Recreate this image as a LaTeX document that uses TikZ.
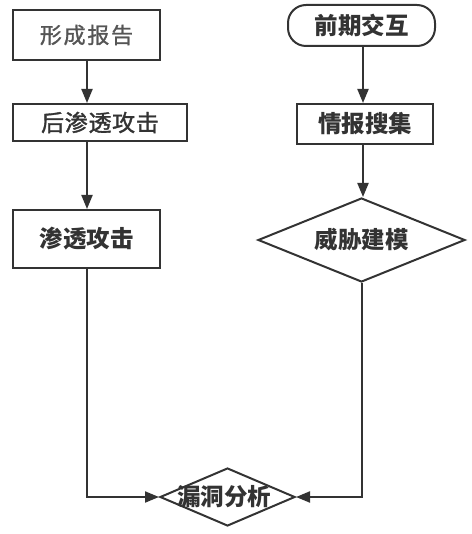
\documentclass[tikz,border=0pt]{standalone}
\usepackage{fontspec}
\setmainfont{Noto Sans CJK SC}
\usetikzlibrary{arrows.meta,shapes.geometric}
\definecolor{ink}{HTML}{333333}
\definecolor{ink2}{HTML}{555555}
\begin{document}
\begin{tikzpicture}[x=1pt,y=-1pt,
  box/.style={draw=ink,line width=2pt,minimum height=#1,inner sep=0pt},
  lbl/.style={font=\fontsize{23.5}{25}\selectfont\bfseries,text=ink},
  arr/.style={draw=ink,line width=2pt,-{Triangle[length=14pt,width=11pt]}},
  dia/.style={diamond,draw=ink,line width=2pt,aspect=#1,inner sep=0pt}]
\useasboundingbox (0,0) rectangle (471,534);
\node[box=50pt,minimum width=147pt,text=ink2,font=\fontsize{22}{24}\selectfont\addfontfeature{LetterSpace=8,FakeBold=1.2}] (a) at (86.5,35) {形成报告};
\node[box=37pt,minimum width=174pt,text=ink,font=\fontsize{23}{24}\selectfont\addfontfeature{LetterSpace=3,FakeBold=1.5}] (b) at (100,122.5) {后渗透攻击};
\node[box=58pt,minimum width=147pt,lbl] (c) at (86.5,239) {渗透攻击};
\node[draw=ink,line width=2pt,rounded corners=18pt,minimum width=147pt,minimum height=41pt,lbl] (d) at (361.5,25.5) {前期交互};
\node[box=40pt,minimum width=136pt,lbl] (e) at (365,124) {情报搜集};
\node[dia=2.46,minimum width=207pt,minimum height=84pt] (f) at (361.5,240) {};
\node[lbl] (fl) at (f) {威胁建模};
\node[dia=2.33,minimum width=135pt,minimum height=58pt] (g) at (227.5,497) {};
\node[lbl] (gl) at (224,497) {漏洞分析};
\draw[arr] (a.south -| 87,0) -- (b.north -| 87,0);
\draw[arr] (b.south -| 87,0) -- (c.north -| 87,0);
\draw[arr] (d.south -| 363,0) -- (e.north -| 363,0);
\draw[arr] (e.south -| 363,0) -- (f.north -| 363,0);
\draw[arr] (c.south -| 87,0) |- (g.west);
\draw[arr] (f.south) |- (g.east);
\end{tikzpicture}
\end{document}
